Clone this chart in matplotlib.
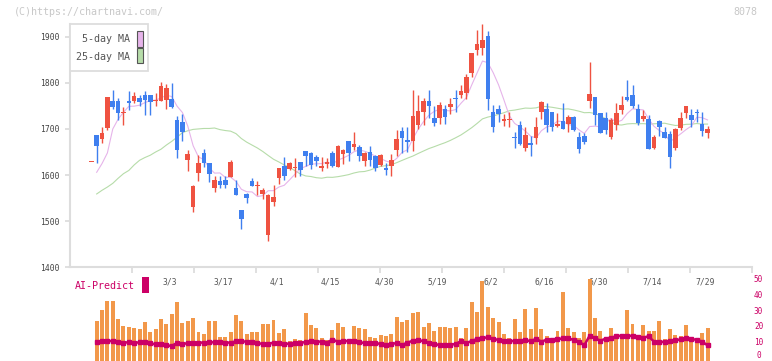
import numpy as np
import pandas as pd
import matplotlib
matplotlib.use("Agg")
import matplotlib.pyplot as plt
from matplotlib.patches import Rectangle

# ---------------- data ----------------
opens = [1628, 1687, 1679, 1702, 1760, 1760, 1735, 1760, 1761, 1767,
         1774, 1774, 1760, 1761, 1763, 1765, 1719, 1715, 1633, 1530,
         1605, 1648, 1626, 1572, 1587, 1589, 1596, 1572, 1524, 1559,
         1587, 1577, 1559, 1471, 1541, 1594, 1620, 1613, 1616, 1628,
         1652, 1648, 1639, 1615, 1624, 1648, 1618, 1646, 1674, 1661,
         1661, 1630, 1650, 1641, 1622, 1615, 1620, 1654, 1696, 1676,
         1674, 1708, 1737, 1760, 1724, 1724, 1743, 1747, 1767, 1773,
         1778, 1822, 1872, 1876, 1902, 1736, 1743, 1717, 1720, 1682,
         1708, 1658, 1669, 1680, 1737, 1743, 1737, 1706, 1717, 1711,
         1726, 1682, 1684, 1760, 1769, 1734, 1724, 1682, 1708, 1741,
         1769, 1773, 1743, 1721, 1721, 1658, 1717, 1693, 1689, 1658,
         1702, 1734, 1730, 1737, 1711, 1691]
highs = [1628, 1687, 1704, 1769, 1784, 1767, 1748, 1782, 1780, 1774,
         1782, 1774, 1778, 1802, 1797, 1800, 1728, 1732, 1654, 1578,
         1644, 1656, 1626, 1598, 1598, 1598, 1633, 1589, 1524, 1561,
         1593, 1587, 1572, 1559, 1578, 1615, 1639, 1629, 1637, 1628,
         1652, 1650, 1644, 1639, 1637, 1652, 1665, 1656, 1674, 1693,
         1665, 1650, 1663, 1644, 1646, 1626, 1646, 1698, 1704, 1704,
         1784, 1773, 1767, 1784, 1750, 1758, 1752, 1767, 1784, 1795,
         1819, 1864, 1915, 1928, 1913, 1752, 1752, 1732, 1736, 1693,
         1717, 1704, 1684, 1726, 1760, 1756, 1737, 1734, 1756, 1730,
         1728, 1693, 1691, 1845, 1769, 1734, 1736, 1724, 1756, 1771,
         1806, 1795, 1754, 1741, 1730, 1687, 1719, 1704, 1695, 1702,
         1736, 1750, 1743, 1743, 1737, 1706]
lows = [1628, 1627, 1670, 1697, 1743, 1719, 1708, 1741, 1756, 1750,
        1730, 1730, 1750, 1761, 1744, 1746, 1638, 1674, 1609, 1520,
        1588, 1618, 1585, 1564, 1572, 1572, 1595, 1557, 1483, 1539,
        1576, 1557, 1548, 1457, 1533, 1580, 1589, 1611, 1596, 1597,
        1620, 1613, 1620, 1609, 1615, 1617, 1618, 1624, 1630, 1654,
        1630, 1620, 1620, 1609, 1620, 1600, 1598, 1641, 1648, 1650,
        1652, 1700, 1708, 1723, 1706, 1711, 1711, 1732, 1737, 1767,
        1765, 1813, 1860, 1860, 1741, 1694, 1716, 1706, 1705, 1658,
        1665, 1652, 1641, 1667, 1721, 1693, 1695, 1704, 1700, 1693,
        1695, 1648, 1667, 1745, 1708, 1691, 1689, 1678, 1698, 1732,
        1760, 1745, 1708, 1717, 1656, 1656, 1684, 1680, 1615, 1654,
        1698, 1724, 1704, 1715, 1684, 1680]
closes = [1628, 1663, 1691, 1769, 1748, 1735, 1737, 1756, 1771, 1758,
          1763, 1759, 1762, 1793, 1789, 1748, 1655, 1693, 1646, 1576,
          1626, 1627, 1603, 1589, 1578, 1578, 1629, 1557, 1504, 1551,
          1576, 1579, 1567, 1557, 1552, 1615, 1598, 1626, 1618, 1611,
          1641, 1622, 1630, 1620, 1628, 1620, 1663, 1654, 1648, 1667,
          1641, 1648, 1633, 1615, 1644, 1611, 1633, 1678, 1680, 1672,
          1728, 1739, 1760, 1750, 1713, 1752, 1726, 1754, 1765, 1782,
          1813, 1864, 1884, 1893, 1764, 1705, 1732, 1721, 1722, 1680,
          1667, 1687, 1665, 1704, 1758, 1708, 1704, 1710, 1700, 1726,
          1698, 1656, 1671, 1775, 1730, 1691, 1698, 1719, 1734, 1752,
          1763, 1750, 1713, 1728, 1656, 1682, 1704, 1680, 1639, 1700,
          1724, 1750, 1719, 1734, 1695, 1700]

# moving-average values before enough history is shown
ma5_lead = [1606, 1625, 1648]
ma25_lead = [1559, 1567, 1574, 1582, 1593, 1603, 1610, 1622, 1632, 1638,
             1643, 1650, 1656, 1665, 1673, 1682, 1692, 1696, 1699, 1700,
             1701, 1701, 1702]

volume = [np.nan,
          23.1, 30.0, 35.7, 35.7, 24.3, 19.9, 19.3, 18.7, 18.0, 22.4,
          16.2, 18.0, 24.3, 21.2, 27.5, 35.0, 21.8, 23.1, 25.0, 16.2,
          14.9, 23.1, 23.1, 13.0, 13.0, 16.2, 26.9, 23.1, 14.9, 16.2,
          16.2, 21.2, 21.2, 23.7, 15.5, 18.0, 10.5, 11.8,
          11.1, 28.1, 20.6, 18.7, 12.4, 11.1, 17.4, 21.8, 19.3, 10.5,
          19.9, 18.7, 18.0, 13.0, 12.4, 14.3, 13.6, 14.9, 25.6, 22.4,
          23.7, 28.1, 28.7, 19.3, 21.8, 16.8, 19.3, 19.3, 18.7, 19.3,
          12.4, 18.7, 35.0, 28.7, 48.2, 31.9, 25.0, 22.4,
          14.9, 12.4, 24.3, 16.2, 30.6, 18.0, 31.2, 18.0, 13.6, 12.4,
          16.8, 41.3, 18.7, 16.2, 12.4, 16.2, 49.5, 25.0, 16.8, 12.4,
          18.7, 12.4, 14.3, 30.0, 21.2, 11.8, 20.6, 16.8, 16.8, 23.1,
          11.8, 18.0, 14.3, 13.6, 20.6, 11.1, 10.5, 15.5, 18.7]

ai_predict = [np.nan,
              10.1, 10.5, 10.5, 10.5, 9.9, 9.5, 9.7, 9.3, 9.7, 9.9,
              9.1, 8.4, 8.8, 7.8, 7.4, 9.3, 8.4, 9.3, 9.1, 9.5,
              9.5, 9.7, 9.7, 9.7, 9.5, 9.5, 10.3, 10.3, 10.1, 9.9,
              9.3, 8.6, 8.6, 9.5, 9.1, 8.8, 8.8, 9.5,
              9.3, 9.9, 10.3, 10.1, 10.1, 9.5, 11.4, 10.1, 10.5, 10.5,
              10.7, 9.7, 9.3, 9.3, 9.3, 8.6, 8.0, 8.8, 9.1, 8.0,
              9.5, 10.7, 11.2, 10.3, 9.5, 8.6, 8.0, 8.0, 8.2, 8.6,
              10.5, 9.3, 10.5, 11.8, 12.4, 12.8, 11.8, 11.2, 10.7,
              10.5, 10.5, 10.5, 10.9, 10.5, 11.8, 10.1, 11.4, 11.2,
              11.6, 12.2, 12.2, 11.2, 10.1, 7.8, 13.9, 12.2, 10.7, 12.0,
              12.6, 13.5, 13.9, 13.9, 13.7, 13.3, 12.6, 13.5, 10.1, 9.7,
              10.1, 10.7, 10.9, 11.6, 12.4, 11.8, 11.2, 10.1, 7.8]

date_labels = ["3/3", "3/17", "4/1", "4/15", "4/30", "5/19",
               "6/2", "6/16", "6/30", "7/14", "7/29"]
date_label_idx = [15, 25, 35, 45, 55, 65, 75, 85, 95, 105, 115]
price_ticks = [1400, 1500, 1600, 1700, 1800, 1900]
volume_ticks = [0, 10, 20, 30, 40, 50]

# ---------------- styling ----------------
RED = "#ef5241"
BLUE = "#3f7fef"
ORANGE = "#f2984a"
MAGENTA = "#cc0066"
PINK = "#e6b4ea"
GREEN = "#b6dca9"
AXIS = "#dddddd"
TEXT = "#555555"
FONT = ["DejaVu Sans Mono"]

plt.rcParams["font.family"] = FONT

W, H = 772, 361
fig = plt.figure(figsize=(W / 100, H / 100), dpi=100)
fig.patch.set_facecolor("white")


def fx(px):
    return px / W


def fy(py):
    return 1 - py / H


ax = fig.add_axes([fx(70), fy(267.3), fx(752) - fx(70), fy(24) - fy(267.3)])
axv = fig.add_axes([fx(70), 0, fx(752) - fx(70), fy(278.3)])
axv.patch.set_alpha(0)

n = len(closes)
x = np.arange(n)
o = np.array(opens, float)
h = np.array(highs, float)
lo = np.array(lows, float)
c = np.array(closes, float)

s = pd.Series(c)
ma5 = s.rolling(5).mean().to_numpy()
ma5[1:1 + len(ma5_lead)] = ma5_lead
ma25 = s.rolling(25).mean().to_numpy()
ma25[1:1 + len(ma25_lead)] = ma25_lead

ax.plot(x, ma25, color=GREEN, lw=0.8, zorder=1)
ax.plot(x, ma5, color=PINK, lw=0.8, zorder=1)

up = c >= o
cols = np.where(up, RED, BLUE)
ax.vlines(x, lo, h, colors=cols, lw=1.0, zorder=2)
body_h = np.maximum(np.abs(c - o), 2.2)
ax.bar(x, body_h, bottom=np.minimum(o, c), width=0.86, color=cols,
       linewidth=0, zorder=3)

xl = (-3.98, 123.3)
ax.set_xlim(*xl)
ax.set_ylim(1400, 1927.5)

for sp in ("top", "right"):
    ax.spines[sp].set_visible(False)
for sp in ("left", "bottom"):
    ax.spines[sp].set_color(AXIS)
    ax.spines[sp].set_linewidth(1.5)

ax.set_yticks(price_ticks)
ax.set_yticklabels([str(t) for t in price_ticks])
ax.tick_params(axis="y", length=3.6, width=1.3, color=AXIS, pad=4.0,
               labelsize=5.8, labelcolor="#444444")

ax.set_xticks(np.array(date_label_idx) - 0.4)
ax.set_xticklabels(date_labels)
ax.tick_params(axis="x", which="major", length=0, pad=7.4,
               labelsize=5.8, labelcolor=TEXT)
span = xl[1] - xl[0]
ax.set_xticks([xl[0] + k * span / 11 for k in range(1, 12)], minor=True)
ax.tick_params(axis="x", which="minor", length=4.2, width=1.3,
               color=AXIS, direction="out")

# volume panel
vmin = -2.08
vol = np.array(volume, float)
axv.bar(x, vol - vmin, bottom=vmin, width=0.74, color=ORANGE, linewidth=0,
        zorder=1)
axv.plot(x, ai_predict, color=MAGENTA, lw=1.8, marker="s", ms=2.4,
         mec=MAGENTA, mfc=MAGENTA, zorder=2)
axv.set_xlim(*xl)
axv.set_ylim(vmin, 50)
for sp in axv.spines.values():
    sp.set_visible(False)
axv.set_xticks([])
axv.yaxis.tick_right()
axv.set_yticks(volume_ticks)
axv.set_yticklabels([str(t) for t in volume_ticks])
axv.tick_params(axis="y", length=0, pad=4.7, labelsize=5.6,
                labelcolor=MAGENTA)
for lab in axv.get_yticklabels():
    lab.set_horizontalalignment("center")
    lab.set_verticalalignment("center_baseline")
axv.get_yticklabels()[0].set_verticalalignment("baseline")

# legend box
ax.add_patch(Rectangle((fx(70), fy(71)), fx(148) - fx(70), fy(24) - fy(71),
                       transform=fig.transFigure, facecolor="white",
                       edgecolor=AXIS, lw=1.3, zorder=10, clip_on=False))
fig.text(fx(129.5), fy(39.5), "5-day MA", ha="right", va="center",
         fontsize=7.2, color=TEXT, zorder=11)
fig.text(fx(129.5), fy(56.5), "25-day MA", ha="right", va="center",
         fontsize=7.2, color=TEXT, zorder=11)
ax.add_patch(Rectangle((fx(136.5), fy(46.5)), fx(6.2), fy(0) - fy(15.3),
                       transform=fig.transFigure, facecolor=PINK,
                       edgecolor="#555555", lw=0.8, zorder=11, clip_on=False))
ax.add_patch(Rectangle((fx(136.5), fy(63.3)), fx(6.2), fy(0) - fy(15.3),
                       transform=fig.transFigure, facecolor=GREEN,
                       edgecolor="#555555", lw=0.8, zorder=11, clip_on=False))

# AI-Predict label
fig.text(fx(75), fy(286), "AI-Predict", ha="left", va="center",
         fontsize=7.2, color=MAGENTA)
fig.patches.append(Rectangle((fx(142), fy(292.7)), fx(6.7), fy(0) - fy(15.4),
                             transform=fig.transFigure, facecolor=MAGENTA,
                             edgecolor="none"))

# watermark / code
fig.text(fx(14), fy(12.3), "(C)https://chartnavi.com/", ha="left",
         va="center", fontsize=7.2, color="#c8c8c8")
fig.text(fx(757), fy(12.3), "8078", ha="right", va="center",
         fontsize=7.2, color="#c8c8c8")

fig.savefig("out.png", dpi=100, facecolor="white")
